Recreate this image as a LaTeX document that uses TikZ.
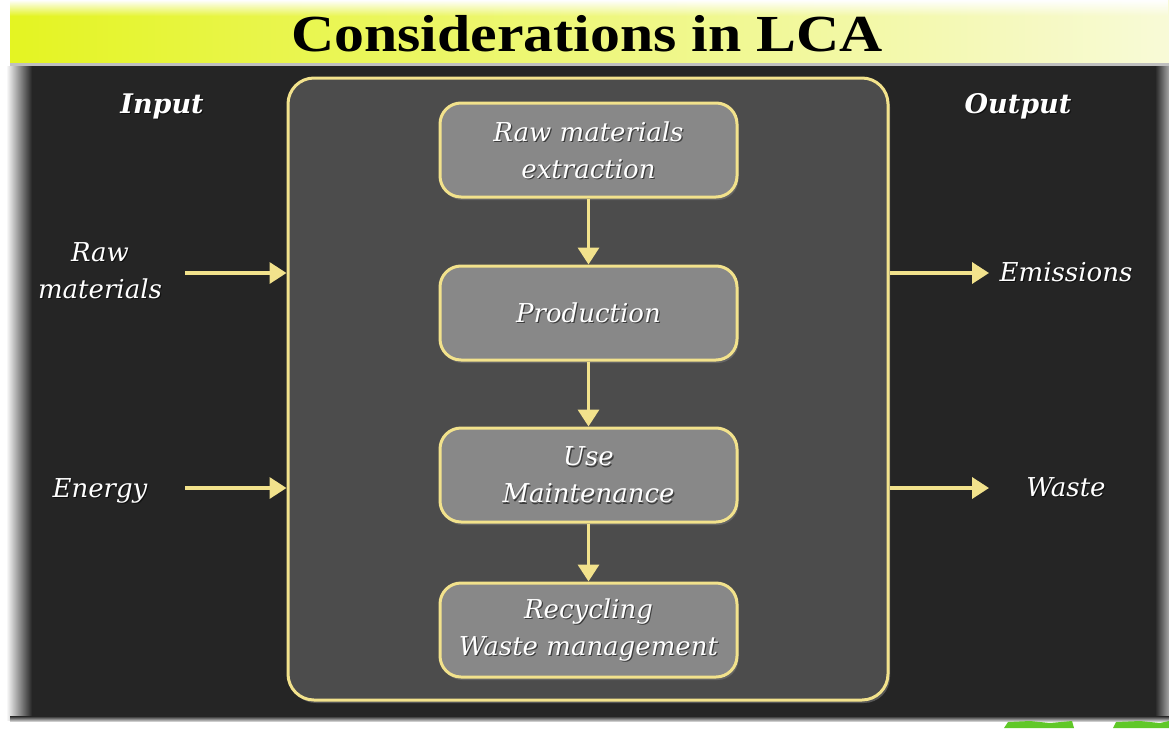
\documentclass[tikz,border=0pt]{standalone}
\usepackage{fontspec}
\setmainfont{Liberation Serif}
\newfontfamily\labelfont{DejaVu Serif}
\usetikzlibrary{arrows.meta,shadows,fadings}

\definecolor{bannerL}{RGB}{228,244,34}
\definecolor{bannerM}{RGB}{240,248,110}
\definecolor{bannerR}{RGB}{248,250,215}
\definecolor{panel}{RGB}{37,37,37}
\definecolor{frameFill}{RGB}{76,76,76}
\definecolor{stepFill}{RGB}{136,136,136}
\definecolor{gold}{RGB}{242,226,140}
\definecolor{leaf}{RGB}{96,200,40}

\tikzfading[name=fadedown, top color=transparent!0, bottom color=transparent!100]

\tikzset{
  frame/.style={draw=gold, fill=frameFill, line width=3pt, rounded corners=26pt,
    minimum width=600pt, minimum height=622pt, inner sep=0pt,
    drop shadow={shadow xshift=2pt, shadow yshift=-3pt, opacity=0.55}},
  stepbox/.style={draw=gold, fill=stepFill, line width=3pt, rounded corners=21pt,
    minimum width=297pt, minimum height=94pt, inner sep=0pt,
    drop shadow={shadow xshift=1.5pt, shadow yshift=-3pt, opacity=0.5}},
  txt/.style={font=\labelfont\itshape\fontsize{26}{37}\selectfont, text=white,
    align=center, inner sep=0pt},
  head/.style={font=\labelfont\bfseries\itshape\fontsize{27}{33}\selectfont, text=white,
    inner sep=0pt},
  flow/.style={draw=gold, line width=3.5pt,
    -{Triangle[width=21pt,length=17pt]}},
}

% white text with a soft dark shadow behind it
\newcommand\shadowtext[4][txt]{%
  \node[#1, text=black, opacity=0.55] at ([shift={(1.2pt,-1.2pt)}]#2) {#4};
  \node[#1] (#3) at (#2) {#4};
}

\begin{document}
\begin{tikzpicture}[x=1pt,y=-1pt]
\useasboundingbox (0,0) rectangle (1169,728);
\fill[white] (0,0) rectangle (1169,728);

% title banner
\shade[left color=bannerL, middle color=bannerM, right color=bannerR] (10,0) rectangle (1169,66);
\fill[white, path fading=fadedown] (10,0) rectangle (1169,16);
\fill[black!25] (10,63) rectangle (1169,66);
\node[font=\bfseries\fontsize{52}{58}\selectfont, xscale=1.15, anchor=base, inner sep=0pt]
  (title) at (587,51) {Considerations in LCA};

% dark panel with soft edges
\fill[panel] (10,66) rectangle (1162,720);
\shade[left color=white, right color=panel] (6,66) rectangle (32,720);
\shade[left color=panel, right color=black!35] (1155,66) rectangle (1169,720);
\shade[top color=panel, bottom color=black!20] (10,716) rectangle (1169,721);

% leaves peeking in at the bottom edge
\fill[leaf] (1004,728) -- (1008,722) -- (1030,721) -- (1050,723) -- (1072,721) -- (1074,728) -- cycle;
\fill[leaf] (1113,728) -- (1116,722) -- (1140,721) -- (1160,723) -- (1169,721) -- (1169,728) -- cycle;

% life-cycle frame and stages
\node[frame] (frame) at (588,389) {};
\node[stepbox] (s1) at (588.5,150) {};
\node[stepbox] (s2) at (588.5,313) {};
\node[stepbox] (s3) at (588.5,475) {};
\node[stepbox] (s4) at (588.5,630) {};

\shadowtext{s1}{t1}{Raw materials\\extraction}
\shadowtext{s2}{t2}{Production}
\shadowtext{s3}{t3}{Use\\Maintenance}
\shadowtext{s4}{t4}{Recycling\\Waste management}

\draw[flow] (s1) -- (s2);
\draw[flow] (s2) -- (s3);
\draw[flow] (s3) -- (s4);

% inputs
\shadowtext[head]{162,106}{input}{Input}
\shadowtext{100,271}{raw}{Raw\\materials}
\shadowtext{100,491}{energy}{Energy}
\coordinate (rawStart) at (185,273);
\coordinate (energyStart) at (185,488);
\draw[flow] (rawStart) -- (rawStart -| frame.west);
\draw[flow] (energyStart) -- (energyStart -| frame.west);

% outputs
\shadowtext[head]{1018,106}{output}{Output}
\shadowtext{1066,272}{emis}{Emissions}
\shadowtext{1066,487}{waste}{Waste}
\coordinate (emisEnd) at (989,273);
\coordinate (wasteEnd) at (989,488);
\draw[flow] (emisEnd -| frame.east) -- (emisEnd);
\draw[flow] (wasteEnd -| frame.east) -- (wasteEnd);
\end{tikzpicture}
\end{document}
